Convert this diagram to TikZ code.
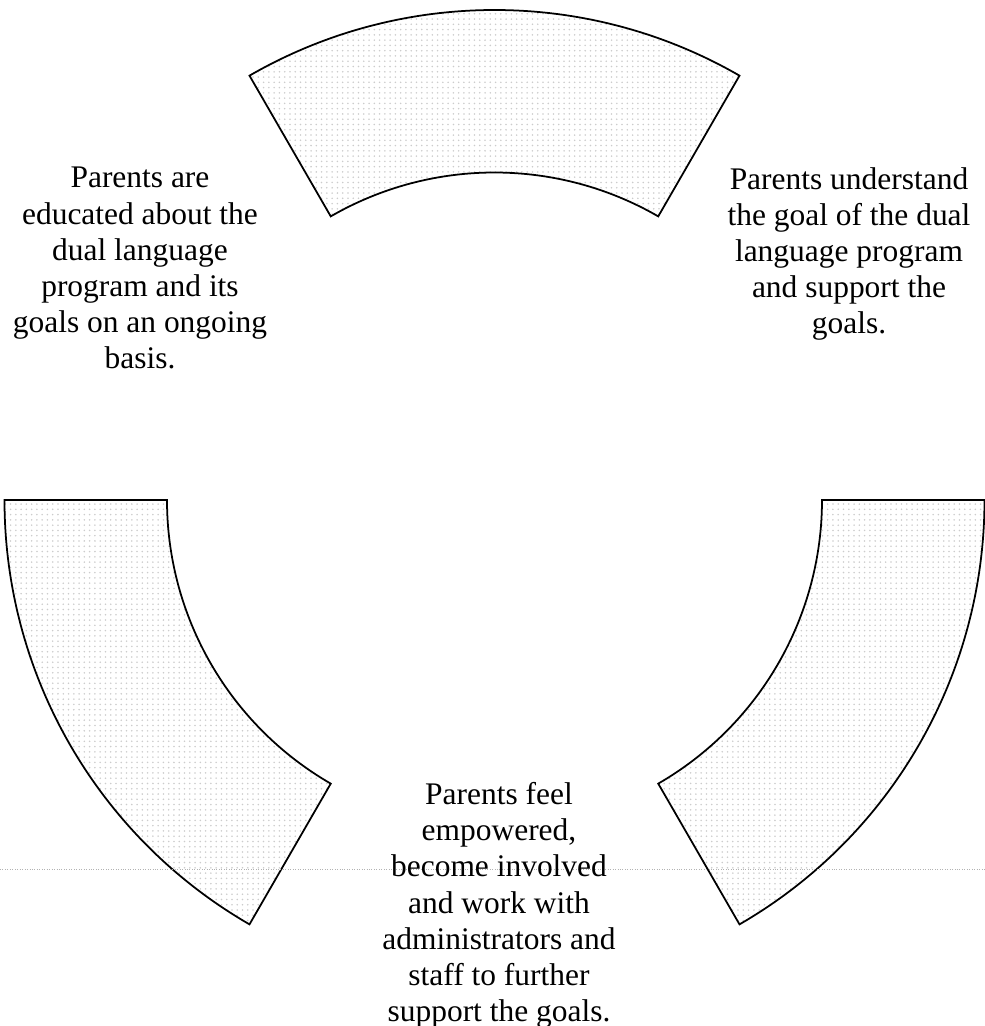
\documentclass[tikz,border=0pt]{standalone}
\usepackage{fontspec}
\setmainfont{Liberation Serif}
\usetikzlibrary{patterns}

\begin{document}
\begin{tikzpicture}[
  band/.style={draw=black, line width=1pt, pattern=dots, pattern color=gray!40},
  goal/.style={align=center, inner sep=0pt, anchor=north,
    font=\fontsize{17.9}{20.6}\selectfont}]
  \useasboundingbox (-9.89,-10.52) rectangle (9.81,10);
  % three pieces of the ring
  \draw[band] (60:9.8) arc (60:120:9.8) -- (120:6.55) arc (120:60:6.55) -- cycle;
  \draw[band] (180:9.8) arc (180:240:9.8) -- (240:6.55) arc (240:180:6.55) -- cycle;
  \draw[band] (300:9.8) arc (300:360:9.8) -- (360:6.55) arc (360:300:6.55) -- cycle;
  % faint scan line
  \coordinate (scanL) at (-9.89,-7.38);
  \coordinate (scanR) at (9.81,-7.38);
  \draw[gray!60, densely dotted, line width=0.4pt] (scanL) -- (scanR);
  \node[goal] (educate) at (-7.09,6.66) {Parents are\\educated about the\\dual language\\program and its\\goals on an ongoing\\basis.};
  \node[goal] (understand) at (7.09,6.66) {Parents understand\\the goal of the dual\\language program\\and support the\\goals.};
  \node[goal] (empower) at (0.09,-5.64) {Parents feel\\empowered,\\become involved\\and work with\\administrators and\\staff to further\\support the goals.};
\end{tikzpicture}
\end{document}
